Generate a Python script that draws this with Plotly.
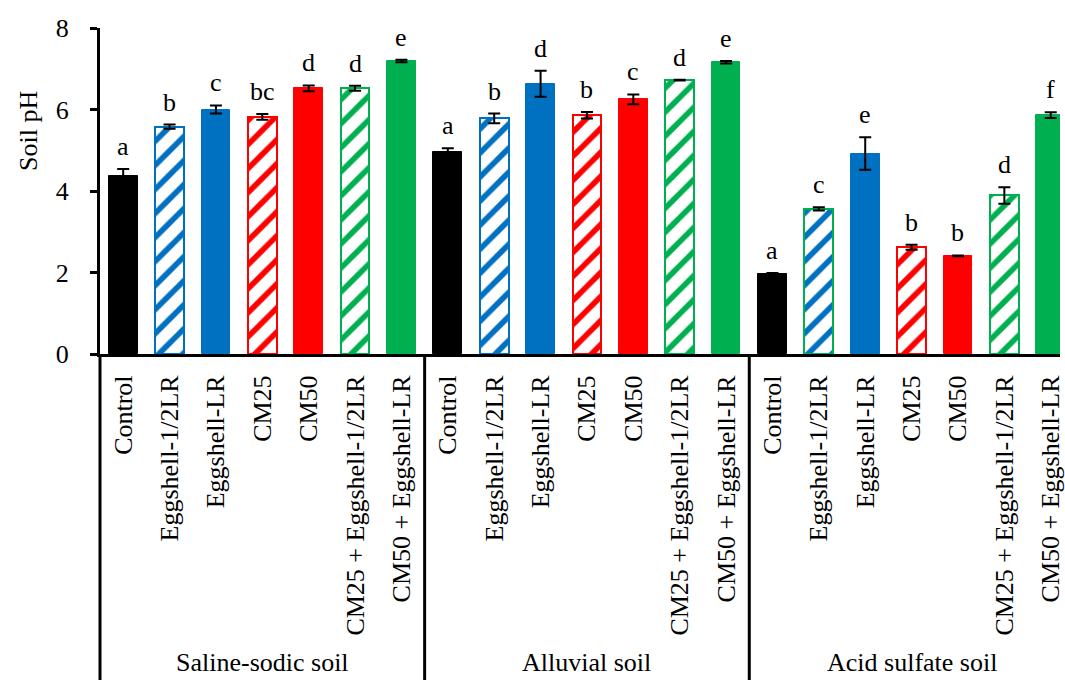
import plotly.graph_objects as go

# Soil pH after amendment, three soils x seven treatments
soils = ["Saline-sodic soil", "Alluvial soil", "Acid sulfate soil"]
treatments = ["Control", "Eggshell-1/2LR", "Eggshell-LR", "CM25", "CM50",
              "CM25 + Eggshell-1/2LR", "CM50 + Eggshell-LR"]

ph_saline = [4.37, 5.58, 6.00, 5.82, 6.52, 6.52, 7.19]
sd_saline = [0.17, 0.05, 0.10, 0.07, 0.07, 0.06, 0.03]
let_saline = ["a", "b", "c", "bc", "d", "d", "e"]

ph_alluvial = [4.96, 5.78, 6.63, 5.86, 6.25, 6.72, 7.16]
sd_alluvial = [0.09, 0.12, 0.32, 0.08, 0.12, 0.01, 0.03]
let_alluvial = ["a", "b", "d", "b", "c", "d", "e"]

ph_acid = [1.96, 3.56, 4.92, 2.62, 2.41, 3.89, 5.86]
sd_acid = [0.03, 0.04, 0.40, 0.06, 0.01, 0.20, 0.07]
let_acid = ["a", "c", "e", "b", "b", "d", "f"]

y_ticks = [0, 2, 4, 6, 8]

# treatment styling
BLACK, BLUE, RED, GREEN = "#000000", "#0070C0", "#FF0000", "#00B050"
colors = [BLACK, BLUE, BLUE, RED, RED, GREEN, GREEN]
hatched = [False, True, False, True, False, True, False]

values = ph_saline + ph_alluvial + ph_acid
errors = sd_saline + sd_alluvial + sd_acid
letters = let_saline + let_alluvial + let_acid
n_t = len(treatments)
xs = list(range(len(values)))

fill = colors * 3
edge = colors * 3
edge[2 * n_t + 1] = GREEN  # outline of the half-rate eggshell bar in acid sulfate soil
shape = ["/" if h else "" for h in hatched] * 3
edge_w = [2 if h else 1 for h in hatched] * 3

SERIF = "Liberation Serif"
FS = 26

fig = go.Figure()
fig.add_trace(go.Bar(
    x=xs, y=values, width=0.62,
    marker=dict(
        color=fill,
        line=dict(color=edge, width=edge_w),
        pattern=dict(shape=shape, fgcolor=fill, bgcolor="white",
                     size=17, solidity=0.33, fillmode="replace"),
    ),
    error_y=dict(type="data", array=errors, visible=True,
                 color="black", thickness=2, width=6),
    showlegend=False, hoverinfo="skip",
))

# significance letters above the error bars
for x, v, e, t in zip(xs, values, errors, letters):
    fig.add_annotation(x=x, y=v + e, text=t, showarrow=False,
                       yanchor="bottom", yshift=6,
                       font=dict(family=SERIF, size=FS, color="black"))

x_lo, x_hi = -0.5, 20.2

# vertical separators under the category axis
line_style = dict(color="black", width=3)
fig.add_shape(type="line", xref="paper", yref="paper", x0=0, x1=0,
              y0=0, y1=-1.05, line=line_style)
for g in range(1, len(soils)):
    sep = g * n_t - 0.5
    fig.add_shape(type="line", xref="x", yref="paper", x0=sep, x1=sep,
                  y0=0, y1=-1.05, line=line_style)

# soil group labels
for g, name in enumerate(soils):
    fig.add_annotation(x=g * n_t + (n_t - 1) / 2, xref="x", y=-0.945, yref="paper",
                       text=name, showarrow=False, yanchor="middle",
                       font=dict(family=SERIF, size=FS, color="black"))

# y-axis title
fig.add_annotation(x=-0.075, xref="paper", y=0.684, yref="paper",
                   text="Soil pH", textangle=-90, showarrow=False,
                   xanchor="center", yanchor="middle",
                   font=dict(family=SERIF, size=FS, color="black"))

fig.update_layout(
    width=1065, height=680,
    margin=dict(l=100, r=0, t=28, b=326),
    paper_bgcolor="white", plot_bgcolor="white",
    font=dict(family=SERIF, size=FS, color="black"),
    bargap=0,
)
fig.update_xaxes(
    range=[x_lo, x_hi], tickmode="array", tickvals=xs,
    ticktext=treatments * 3, tickangle=-90,
    showline=True, linecolor="black", linewidth=3,
    ticks="", showgrid=False, zeroline=False,
    ticklabelstandoff=8, ticklabeloverflow="allow",
    tickfont=dict(family=SERIF, size=FS, color="black"),
)
fig.update_yaxes(
    range=[0, 8], tickmode="array", tickvals=y_ticks,
    showline=True, linecolor="black", linewidth=3,
    ticks="outside", ticklen=7, tickwidth=3, tickcolor="black",
    showgrid=False, zeroline=False, ticklabelstandoff=16,
    tickfont=dict(family=SERIF, size=FS, color="black"),
)

fig.write_html("out.html")
